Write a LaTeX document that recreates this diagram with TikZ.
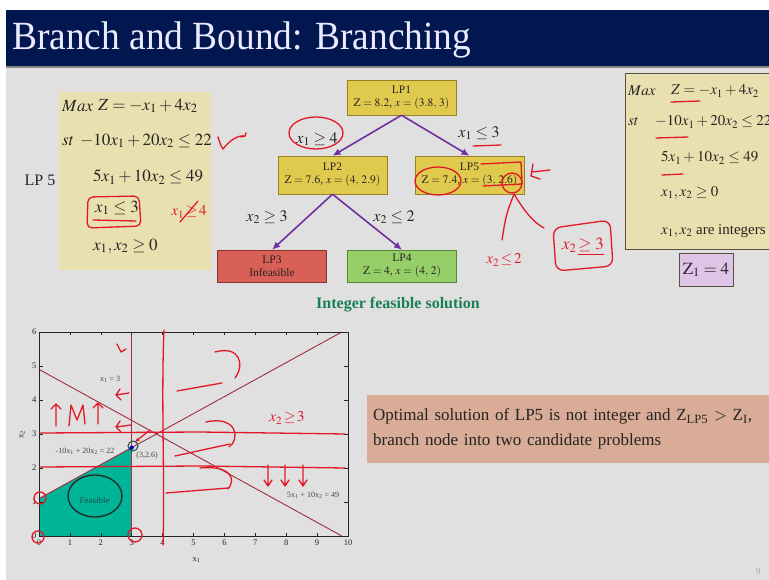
\documentclass[tikz,border=0pt]{standalone}
\usepackage{amsmath,amssymb}
\usepackage{mathptmx}
\usepackage{fontspec}
\setmainfont{Liberation Serif}
\usepackage{xcolor}
\usetikzlibrary{arrows.meta,positioning,calc}
\definecolor{ink}{RGB}{38,36,34}
\definecolor{navy}{RGB}{2,22,80}
\definecolor{slide}{RGB}{224,224,224}
\definecolor{khaki}{RGB}{233,224,176}
\definecolor{khakiedge}{RGB}{90,80,64}
\definecolor{lpgold}{RGB}{224,202,78}
\definecolor{lpedge}{RGB}{150,128,40}
\definecolor{lpred}{RGB}{216,96,86}
\definecolor{redge}{RGB}{140,50,45}
\definecolor{lpgreen}{RGB}{150,206,104}
\definecolor{gedge}{RGB}{86,136,60}
\definecolor{purp}{RGB}{112,48,160}
\definecolor{intgreen}{RGB}{26,128,84}
\definecolor{lilac}{RGB}{222,196,230}
\definecolor{salmon}{RGB}{216,172,150}
\definecolor{feas}{RGB}{0,180,152}
\definecolor{plotred}{RGB}{164,44,64}
\definecolor{penred}{RGB}{226,24,40}
\tikzset{
  lpbox/.style={draw=lpedge,fill=lpgold,minimum width=109pt,minimum height=38pt,
    align=center,inner sep=1pt,text=ink,font=\fontsize{11.5}{13}\selectfont},
  infeas/.style={lpbox,draw=redge,fill=lpred,minimum height=32pt},
  intsol/.style={lpbox,draw=gedge,fill=lpgreen,minimum height=32pt},
  branch/.style={line width=1.6pt,purp,-{Latex[length=8pt,width=7pt]}},
  cut/.style={text=ink,inner sep=1pt,font=\fontsize{16}{17}\selectfont},
  cons/.style={anchor=west,text=ink,inner sep=0pt,font=\fontsize{17}{18}\selectfont},
  rcons/.style={cons,font=\fontsize{15}{16}\selectfont},
  plotline/.style={line width=0.9pt,plotred},
  ticklab/.style={text=ink,inner sep=1pt,font=\fontsize{8.5}{9}\selectfont},
  plotnote/.style={text=ink!85,inner sep=0pt,font=\fontsize{8}{9}\selectfont},
  pen/.style={line width=1.3pt,penred,line cap=round,line join=round},
  pentext/.style={text=penred,inner sep=0pt,font=\fontsize{15}{16}\selectfont\itshape}
}
\begin{document}
\begin{tikzpicture}[x=1pt,y=-1pt]
  \useasboundingbox (0,0) rectangle (769,580);
  \fill[white] (0,0) rectangle (769,580);
  \fill[slide] (6,66) rectangle (769,580);
  \fill[navy] (6,10) rectangle (769,66);
  \draw[ink!55,line width=1.5pt] (6,67) -- (769,67);
  \node[anchor=base west,text=white!92!blue,inner sep=0pt,font=\fontsize{40}{42}\selectfont]
    (title) at (12,50) {\scalebox{0.935}[1]{Branch and Bound: Branching}};

  % LP5 model, left
  \fill[khaki] (59,92) rectangle (211,270);
  \node[text=ink,font=\fontsize{16}{17}\selectfont] (lpname) at (40,180) {LP 5};
  \node[cons] (lmax) at (62,106) {$Max$};
  \node[cons] (lobj) at (98,106) {$Z=-x_1+4x_2$};
  \node[cons] (lst) at (62,141) {$st$};
  \node[cons] (lcA) at (80,141) {$-10x_1+20x_2\leq 22$};
  \node[cons] (lcB) at (93,177) {$5x_1+10x_2\leq 49$};
  \node[cons] (lcC) at (95,208) {$x_1\leq 3$};
  \node[cons] (lcD) at (93,246) {$x_1,x_2\geq 0$};

  % tree
  \node[lpbox,minimum height=35pt] (lp1) at (401.5,97.5) {LP1\\$\mathrm{Z}=8.2$, $x=(3.8,\,3)$};
  \node[lpbox] (lp2) at (332.5,175) {LP2\\$\mathrm{Z}=7.6$, $x=(4,\,2.9)$};
  \node[lpbox] (lp5) at (469.5,175) {LP5\\$\mathrm{Z}=7.4$, $x=(3,\,2.6)$};
  \node[infeas] (lp3) at (272,266) {LP3\\Infeasible};
  \node[intsol] (lp4) at (402,266) {LP4\\$\mathrm{Z}=4$, $x=(4,\,2)$};
  \draw[branch] (lp1.south) -- (lp2.north);
  \draw[branch] (lp1.south) -- (lp5.north);
  \draw[branch] (lp2.south) -- (lp3.north);
  \draw[branch] (lp2.south) -- (lp4.north);
  \node[cut] (cutA) at (317,139) {$x_1\geq 4$};
  \node[cut] (cutB) at (479,133) {$x_1\leq 3$};
  \node[cut] (cutC) at (267,217) {$x_2\geq 3$};
  \node[cut] (cutD) at (394,217) {$x_2\leq 2$};
  \node[text=intgreen,font=\fontsize{16}{17}\selectfont\bfseries] (intlbl) at (398,305)
    {Integer feasible solution};

  % original model, right
  \begin{scope}
    \clip (0,0) rectangle (769,580);
    \fill[khaki] (625,74) rectangle (769,250);
    \draw[khakiedge,line width=1pt] (769,74) -- (625,74) -- (625,250) -- (769,250);
    \node[rcons] (rmax) at (628,91) {$Max$};
    \node[rcons] (robj) at (671,91) {$Z=-x_1+4x_2$};
    \node[rcons] (rst) at (628,122) {$st$};
    \node[rcons] (rcA) at (655,122) {$-10x_1+20x_2\leq 22$};
    \node[rcons] (rcB) at (661,158) {$5x_1+10x_2\leq 49$};
    \node[rcons] (rcC) at (661,193) {$x_1,x_2\geq 0$};
    \node[rcons] (rcD) at (661,231) {$x_1,x_2$ are integers};
  \end{scope}
  \node[draw=khakiedge,fill=lilac,line width=0.8pt,minimum width=54pt,minimum height=33pt,
    text=ink,font=\fontsize{17}{18}\selectfont] (zone) at (706,270) {$\mathrm{Z}_1=4$};

  % note
  \node[anchor=north west,fill=salmon,minimum width=402pt,minimum height=68pt,
    text width=392pt,align=left,inner xsep=6pt,text=ink,font=\fontsize{17}{25}\selectfont]
    (note) at (367,395)
    {Optimal solution of LP5 is not integer and Z\textsubscript{LP5} $>$ Z\textsubscript{I},\\
     branch node into two candidate problems};
  \node[text=ink!40,font=\fontsize{9}{9}\selectfont] (pageno) at (758,572) {9};

  % graphical solution
  \begin{scope}[shift={(39pt,-536pt)},x=30.9pt,y=34pt]
    \fill[feas] (0,0) -- (0,1.1) -- (3,2.6) -- (3,0) -- cycle;
    \draw[plotline] (0,4.9) -- (9.8,0);
    \draw[plotline] (0,1.1) -- (9.8,6);
    \draw[plotline] (3,0) -- (3,6);
    \draw[ink,line width=0.6pt] (0,0) rectangle (10,6);
    \foreach \i in {0,...,10} {
      \draw[ink,line width=0.5pt] (\i,0) -- (\i,0.1) (\i,6) -- (\i,5.9);
      \node[ticklab,below] (xt\i) at (\i,-0.08) {\i};
    }
    \foreach \j in {0,...,6} {
      \draw[ink,line width=0.5pt] (0,\j) -- (0.12,\j) (10,\j) -- (9.88,\j);
      \node[ticklab,left] (yt\j) at (-0.05,\j) {\j};
    }
    \node[ticklab] (xlab) at (5.1,-0.7) {x\textsubscript{1}};
    \node[ticklab,rotate=90] (ylab) at (-0.55,2.97) {x\textsubscript{2}};
    \node[plotnote] (nX) at (2.3,4.6) {x\textsubscript{1} = 3};
    \node[plotnote] (nA) at (1.49,2.5) {-10x\textsubscript{1} + 20x\textsubscript{2} = 22};
    \node[plotnote] (nP) at (3.5,2.38) {(3,2.6)};
    \node[plotnote] (nB) at (8.87,1.2) {5x\textsubscript{1} + 10x\textsubscript{2} = 49};
    \node[plotnote,text=ink!70!feas,font=\fontsize{9}{10}\selectfont] (nF) at (1.8,1.06) {Feasible};
    \fill[blue!80!black] (3,2.6) circle (2.2pt);
  \end{scope}

  % red ink
  \draw[pen] (218,137) .. controls (221,146) .. (223,149) .. controls (230,140) and (238,135) .. (245,136);
  \draw[pen] (246,133) -- (245,136) -- (241,137);
  \draw[pen,rounded corners=5pt] (88,197) -- (139,196) -- (141,226) -- (87,228) -- cycle;
  \draw[pen] (93,220) -- (136,221);
  \node[pentext] (xcross) at (189,212) {$x_1\!\geq\!4$};
  \draw[pen] (180,222) -- (198,201);
  \draw[pen] (316,133) ellipse (27pt and 16pt);
  \draw[pen] (473,146) -- (501,145);
  \draw[pen] (438,181) ellipse (23pt and 14pt);
  \draw[pen] (481,164) -- (521,162) -- (522,184) -- (483,186);
  \draw[pen] (512,183) circle (10pt);
  \draw[pen] (533,164) -- (531,176) -- (540,179) (532,172) -- (550,170);
  \draw[pen] (514,194) .. controls (506,215) .. (502,240);
  \draw[pen] (514,194) .. controls (525,212) and (533,222) .. (544,228);
  \node[pentext] (hwA) at (504,260) {$x_2\!\leq\!2$};
  \node[pentext,font=\fontsize{17}{18}\selectfont\itshape] (hwB) at (583,247) {$x_2\,\underline{\geq 3}$};
  \draw[pen,rounded corners=8pt] (553,228) -- (610,220) -- (613,266) -- (556,271) -- cycle;
  \draw[pen] (671,102) -- (700,101);
  \draw[pen] (656,138) -- (688,137);
  \draw[pen] (662,175) -- (683,174);

  % red ink on the plot
  \draw[pen] (40,433) -- (200,432) -- (345,434);
  \draw[pen] (40,467) -- (200,466) -- (345,468);
  \draw[pen] (164,330) .. controls (161,400) and (165,480) .. (163,545);
  \node[pentext] (hwC) at (287,418) {$x_2\!\geq\!3$};
  \foreach \k in {268,285,303} {\draw[pen] (\k,465) -- (\k,486) (\k-4,480) -- (\k,486) -- (\k+4,480);}
  \draw[pen] (56,426) -- (56,404) (51,409) -- (56,404) -- (61,409);
  \draw[pen] (69,426) -- (71,405) -- (77,420) -- (83,405) -- (85,424);
  \draw[pen] (98,424) -- (98,403) (93,408) -- (98,403) -- (103,408);
  \draw[pen] (129,393) -- (116,395) (120,389) -- (116,395) -- (121,400);
  \draw[pen] (131,425) -- (116,427) (120,421) -- (116,427) -- (121,432);
  \draw[pen] (117,344) -- (121,352) -- (126,349);
  \draw[pen,-{Stealth[length=5pt]}] (150,430) -- (135,442);
  \draw[pen] (215,352) .. controls (240,345) and (245,365) .. (235,378);
  \draw[pen] (177,391) -- (222,383);
  \draw[pen] (206,422) .. controls (238,415) and (240,440) .. (229,447);
  \draw[pen] (175,456) -- (230,444);
  \draw[pen] (200,468) .. controls (232,465) and (236,480) .. (228,489);
  \draw[pen] (166,493) -- (228,488);
  \draw[pen] (40,498) circle (6pt);
  \draw[pen] (38,537) circle (6pt);
  \draw[pen] (135,535) circle (7pt);
  \draw[line width=1pt,ink!70!feas] (133,446) circle (5pt);
  \draw[line width=1.3pt,ink] (95,496) ellipse (27pt and 21pt);
\end{tikzpicture}
\end{document}
